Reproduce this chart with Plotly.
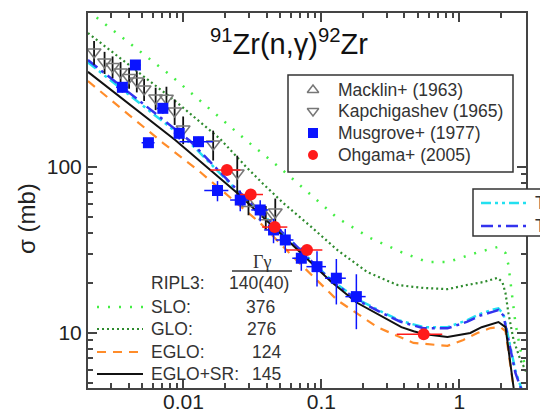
import plotly.graph_objects as go

# ---------------- model calculations: E (MeV) vs sigma (mb) ----------------
slo_e = [0.00203, 0.002748, 0.00801, 0.02948, 0.0503, 0.1304, 0.226, 0.3924, 0.5858,
         0.832, 1.017, 1.374, 1.887, 2.16, 2.268, 2.424, 2.549, 2.772, 2.963, 3.3]
slo_sigma = [870, 714, 357, 140.8, 98.2, 49.1, 37.2, 30.2, 26.7,
             26.7, 28.2, 30.6, 32.8, 30.2, 25.6, 16.4, 11.4, 7.87, 6.57, 5.5]

glo_e = [0.00203, 0.00871, 0.01846, 0.029, 0.0379, 0.0529, 0.0831, 0.1304, 0.215, 0.3549,
         0.549, 0.82, 1.143, 1.494, 1.887, 2.051, 2.16, 2.268, 2.47, 2.772, 2.963, 3.3]
glo_sigma = [639, 248.8, 146.9, 98.2, 78.7, 60.4, 43.9, 31.5, 23.2, 19.4,
             18.6, 18.3, 19.4, 20.2, 21.4, 20.2, 17.3, 13.1, 9.05, 6.85, 6.13, 5.0]

eglo_e = [0.00203, 0.00712, 0.01322, 0.02183, 0.036, 0.0625, 0.1304, 0.2544, 0.4644,
          0.82, 1.069, 1.351, 1.679, 1.984, 2.16, 2.424, 2.549]
eglo_sigma = [328, 138.9, 92.9, 64.8, 45.8, 28.6, 15.7, 10.8, 8.68,
              8.33, 9.05, 9.96, 10.67, 10.8, 10.24, 5.19, 4.23]

eglosr_e = [0.00203, 0.00871, 0.01565, 0.02454, 0.0566, 0.116, 0.18, 0.2676, 0.38, 0.466,
            0.549, 0.82, 1.0, 1.2, 1.45, 1.765, 1.92, 2.16, 2.47, 2.6]
eglosr_sigma = [373, 144.8, 95.5, 69.4, 36.2, 20.5, 15.2, 12.6, 10.8, 10.2,
                9.82, 9.42, 9.7, 9.96, 10.8, 11.4, 11.6, 10.8, 4.7, 4.0]

talys_a_e = [0.00203, 0.01118, 0.02454, 0.0566, 0.116, 0.1822, 0.2676, 0.3744, 0.549, 0.82,
             1.143, 1.42, 1.765, 1.919, 2.086, 2.268, 2.549, 2.772, 2.913]
talys_a_sigma = [425, 139, 71.5, 37.5, 21.0, 15.9, 13.5, 11.8, 10.8, 10.8,
                 11.9, 13.0, 13.8, 14.0, 13.0, 9.3, 5.9, 4.8, 4.3]

talys_b_e = [0.00203, 0.01118, 0.02454, 0.0566, 0.116, 0.1822, 0.2676, 0.3744, 0.549, 0.82,
             1.143, 1.42, 1.765, 1.919, 2.086, 2.268, 2.549, 2.772, 2.913]
talys_b_sigma = [439, 142.8, 72.4, 37.7, 20.8, 15.7, 13.3, 11.65, 10.63, 10.63,
                 11.65, 12.7, 13.4, 13.7, 12.7, 9.05, 5.72, 4.71, 4.2]

# ---------------- measurements ----------------
macklin_e = [0.0296, 0.0395]
macklin_sigma = [60.0, 50.0]
macklin_err = [9.0, 8.0]

kapch_e = [0.002249, 0.00268, 0.003063, 0.0035, 0.004036, 0.004589, 0.005186, 0.006285,
           0.007526, 0.00863, 0.00995, 0.01642, 0.02454, 0.0463]
kapch_sigma = [491, 427, 401.5, 372, 344.6, 328.3, 293.9, 259.3,
               258.3, 216.5, 168.7, 137, 91.6, 53.3]
kapch_err = [80, 65, 60, 55, 50, 48, 45, 40, 45, 38, 32, 28, 25, 11]

musgrove_e = [0.003608, 0.004484, 0.005572, 0.007088, 0.009307, 0.01285, 0.01765, 0.0258,
              0.036, 0.04497, 0.0547, 0.0715, 0.0929, 0.1283, 0.1792]
musgrove_sigma = [300.9, 410, 139.5, 224.8, 158.9, 141.5, 71.9, 63.0,
                  54.9, 41.6, 36.2, 28.1, 25.0, 21.3, 16.5]
musgrove_de = [0.00036, 0.0004, 0.0006, 0.0007, 0.0008, 0.0035, 0.0035, 0.004,
               0.005, 0.0065, 0.008, 0.01, 0.015, 0.022, 0.03]
musgrove_dsigma = [21, 28, 8, 16, 13, 10, 10, 9, 8, 7, 6, 4.5, 6, 6.5, 6]

ohgama_e = [0.02065, 0.03074, 0.0459, 0.0786, 0.5515]
ohgama_sigma = [95.5, 68.0, 43.3, 31.5, 9.78]
ohgama_de_minus = [0.005, 0.005, 0.0087, 0.023, 0.2]
ohgama_de_plus = [0.0052, 0.007, 0.0107, 0.023, 0.2]

# ---------------- key texts and table of gamma widths ----------------
data_names = ["Macklin+ (1963)", "Kapchigashev (1965)", "Musgrove+ (1977)", "Ohgama+ (2005)"]
ripl_label = "RIPL3:"
ripl_value = "140(40)"
model_labels = ["SLO:", "GLO:", "EGLO:", "EGLO+SR:"]
model_widths = ["376", "276", "124", "145"]
talys_names = ["TALYS", "TALYS"]

x_tick_vals = [0.01, 0.1, 1]
x_tick_text = ["0.01", "0.1", "1"]
y_tick_vals = [10, 100]
y_tick_text = ["10", "100"]

FONT = "Liberation Sans, Arial, Helvetica, sans-serif"
AXIS_COLOR = "#444444"
TEXT_COLOR = "#333333"

slo_style = dict(color="#44ee44", width=2.5, dash="2px,9px")
glo_style = dict(color="#2e8b2e", width=2.2, dash="2px,3px")
eglo_style = dict(color="#ff8c2a", width=2.2, dash="9px,7px")
eglosr_style = dict(color="#111111", width=2)
talys_a_style = dict(color="#22e0f0", width=2.5, dash="10px,4px,3px,4px,3px,4px")
talys_b_style = dict(color="#3333ee", width=2.5, dash="12px,5px,3px,5px")

macklin_marker = dict(symbol="triangle-up-open", color="#777777", line=dict(width=1.5))
kapch_marker = dict(symbol="triangle-down-open", color="#777777", line=dict(width=1.5))
musgrove_marker = dict(symbol="square", color="#0a14ff")
ohgama_marker = dict(symbol="circle", color="#ff1a1a")

fig = go.Figure()

for e, s, st in [(slo_e, slo_sigma, slo_style), (glo_e, glo_sigma, glo_style),
                 (talys_a_e, talys_a_sigma, talys_a_style), (talys_b_e, talys_b_sigma, talys_b_style),
                 (eglo_e, eglo_sigma, eglo_style), (eglosr_e, eglosr_sigma, eglosr_style)]:
    fig.add_trace(go.Scatter(x=e, y=s, mode="lines", line=st, showlegend=False, hoverinfo="skip"))

fig.add_trace(go.Scatter(
    x=macklin_e, y=macklin_sigma, mode="markers", showlegend=False,
    marker=dict(size=12, **macklin_marker),
    error_y=dict(type="data", array=macklin_err, color="#111111", thickness=1.8, width=0)))

fig.add_trace(go.Scatter(
    x=kapch_e, y=kapch_sigma, mode="markers", showlegend=False,
    marker=dict(size=12, **kapch_marker),
    error_y=dict(type="data", array=kapch_err, color="#111111", thickness=1.8, width=0)))

fig.add_trace(go.Scatter(
    x=musgrove_e, y=musgrove_sigma, mode="markers", showlegend=False,
    marker=dict(size=11, **musgrove_marker),
    error_x=dict(type="data", array=musgrove_de, color="#0a14ff", thickness=1.5, width=0),
    error_y=dict(type="data", array=musgrove_dsigma, color="#0a14ff", thickness=1.5, width=0)))

fig.add_trace(go.Scatter(
    x=ohgama_e, y=ohgama_sigma, mode="markers", showlegend=False,
    marker=dict(size=12, **ohgama_marker),
    error_x=dict(type="data", symmetric=False, array=ohgama_de_plus, arrayminus=ohgama_de_minus,
                 color="#ff1a1a", thickness=1.5, width=0)))

# plot-area pixel geometry
L, R, T, B = 88, 14, 13, 25
W, H = 540, 413
PW, PH = W - L - R, H - T - B


def px(xp):
    return (xp - L) / PW


def py(yp):
    return 1 - (yp - T) / PH


annotations = []
shapes = []

# key for the measurements: framed box, symbols on an overlay frame, names as text
key_rows = [90, 111, 133, 155]
shapes.append(dict(type="rect", xref="paper", yref="paper", x0=px(288), x1=px(513),
                   y0=py(172), y1=py(75), fillcolor="white",
                   line=dict(color="#333333", width=1.5), layer="below"))
for yy, mk in zip(key_rows, [macklin_marker, kapch_marker, musgrove_marker, ohgama_marker]):
    fig.add_trace(go.Scatter(x=[px(313)], y=[py(yy)], xaxis="x2", yaxis="y2", mode="markers",
                             marker=dict(size=10, **mk), showlegend=False, hoverinfo="skip"))
for yy, name in zip(key_rows, data_names):
    annotations.append(dict(x=px(336), y=py(yy), xref="paper", yref="paper", xanchor="left",
                            yanchor="middle", text=name, showarrow=False,
                            font=dict(family=FONT, size=17.5, color=TEXT_COLOR)))

# reaction label
annotations.append(dict(
    x=px(289), y=py(42), xref="paper", yref="paper", xanchor="center", yanchor="middle",
    text="<sup>91</sup>Zr(n,γ)<sup>92</sup>Zr", showarrow=False,
    font=dict(family=FONT, size=29, color="#111111")))

# y axis title
annotations.append(dict(
    x=px(26), y=py(219), xref="paper", yref="paper", xanchor="center", yanchor="middle",
    text="σ (mb)", textangle=-90, showarrow=False,
    font=dict(family=FONT, size=24, color="#222222")))

# gamma-width table
annotations.append(dict(
    x=px(262), y=py(262), xref="paper", yref="paper", xanchor="center", yanchor="middle",
    text="Γγ", showarrow=False,
    font=dict(family="Liberation Serif, Times New Roman, serif", size=18, color=TEXT_COLOR)))
shapes.append(dict(type="line", xref="paper", yref="paper", x0=px(232), x1=px(292),
                   y0=py(271), y1=py(271), line=dict(color="#333333", width=1.5)))

row_y = [283, 307, 329, 352, 374]
value_x = [259, 260, 261, 266, 266]
labels = [ripl_label] + model_labels
values = [ripl_value] + model_widths
for yy, lab, val, vx in zip(row_y, labels, values, value_x):
    annotations.append(dict(x=px(149), y=py(yy), xref="paper", yref="paper", xanchor="left",
                            yanchor="middle", text=lab, showarrow=False,
                            font=dict(family=FONT, size=17.5, color=TEXT_COLOR)))
    annotations.append(dict(x=px(vx), y=py(yy), xref="paper", yref="paper", xanchor="center",
                            yanchor="middle", text=val, showarrow=False,
                            font=dict(family=FONT, size=17.5, color=TEXT_COLOR)))

for yy, st in zip(row_y[1:], [slo_style, glo_style, eglo_style, eglosr_style]):
    shapes.append(dict(type="line", xref="paper", yref="paper", x0=px(97), x1=px(143),
                       y0=py(yy), y1=py(yy), line=st))

# second key box at the right edge
shapes.append(dict(type="rect", xref="paper", yref="paper", x0=px(473), x1=px(575),
                   y0=py(236), y1=py(189), fillcolor="white",
                   line=dict(color="#333333", width=1.5), layer="above"))
for yy, st, name in zip([203, 226], [talys_a_style, talys_b_style], talys_names):
    shapes.append(dict(type="line", xref="paper", yref="paper", x0=px(481), x1=px(527),
                       y0=py(yy), y1=py(yy), line=st, layer="above"))
    annotations.append(dict(x=px(533), y=py(yy), xref="paper", yref="paper", xanchor="left",
                            yanchor="middle", text=name, showarrow=False,
                            font=dict(family=FONT, size=17.5, color=TEXT_COLOR)))

minor_vals = [m * 10 ** k for k in (-3, -2, -1, 0, 1) for m in range(2, 10)]

axis_common = dict(
    type="log", showline=True, linecolor=AXIS_COLOR, linewidth=2, mirror="ticks",
    ticks="inside", ticklen=9, tickwidth=1.5, tickcolor=AXIS_COLOR, showgrid=False,
    zeroline=False, tickfont=dict(family=FONT, size=21, color="#222222"),
    minor=dict(ticks="inside", ticklen=5, tickwidth=1.5, tickcolor=AXIS_COLOR,
               tickmode="array", tickvals=minor_vals, showgrid=False),
)

fig.update_layout(
    width=W, height=H,
    margin=dict(l=L, r=R, t=T, b=B, autoexpand=False),
    paper_bgcolor="white", plot_bgcolor="white",
    font=dict(family=FONT),
    showlegend=False,
    xaxis=dict(range=[-2.692, 0.483], tickmode="array", tickvals=x_tick_vals,
               ticktext=x_tick_text, ticklabelstandoff=-6, **axis_common),
    yaxis=dict(range=[0.667, 2.926], tickmode="array", tickvals=y_tick_vals,
               ticktext=y_tick_text, **axis_common),
    xaxis2=dict(overlaying="x", range=[0, 1], visible=False, fixedrange=True),
    yaxis2=dict(overlaying="y", range=[0, 1], visible=False, fixedrange=True),
    annotations=annotations,
    shapes=shapes,
)

fig.write_html("out.html")
